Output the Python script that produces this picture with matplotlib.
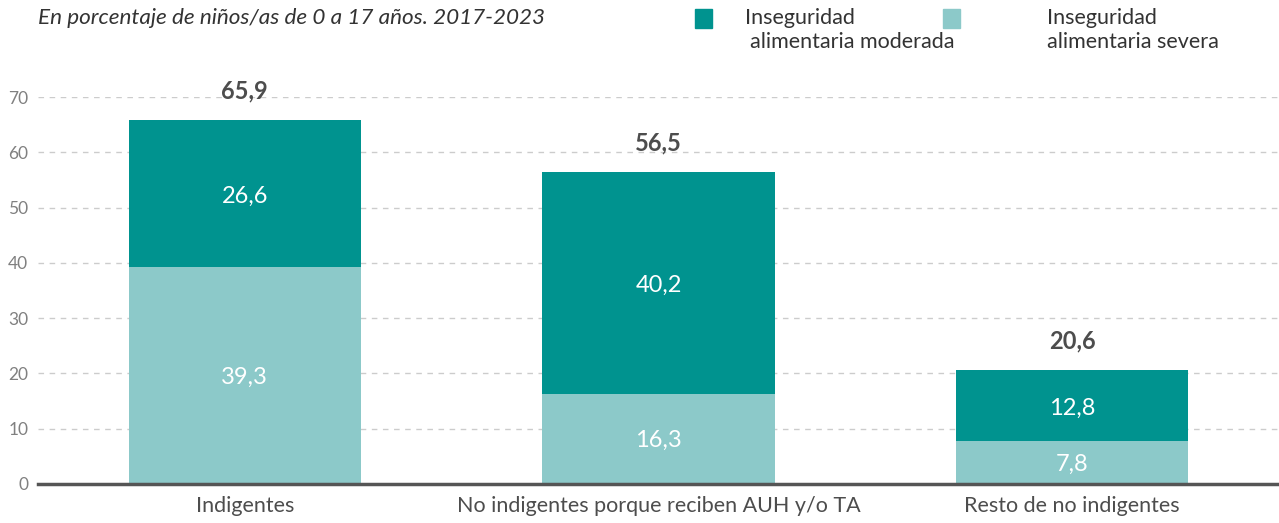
import matplotlib.pyplot as plt
from matplotlib.patches import Rectangle

categories = ['Indigentes', 'No indigentes porque reciben AUH y/o TA', 'Resto de no indigentes']
severa = [39.3, 16.3, 7.8]
moderada = [26.6, 40.2, 12.8]
totales = [65.9, 56.5, 20.6]

dark = '#00938F'
light = '#8CC9C9'
txt = '#4D4D4D'

plt.rcParams['font.family'] = ['Lato', 'DejaVu Sans']

fig = plt.figure(figsize=(12.79, 5.23), dpi=100)
ax = fig.add_axes([38 / 1279, 39 / 523, 1 - 38 / 1279, (484 - 97) / 523])

x = range(len(categories))
ax.bar(x, severa, width=0.562, color=light, zorder=2)
ax.bar(x, moderada, width=0.562, bottom=severa, color=dark, zorder=2)

for i in x:
    ax.text(i, severa[i] / 2 - 0.3, f'{severa[i]:.1f}'.replace('.', ','), ha='center', va='center',
            color='white', fontsize=17)
    ax.text(i, severa[i] + moderada[i] / 2 - 0.5, f'{moderada[i]:.1f}'.replace('.', ','), ha='center',
            va='center', color='white', fontsize=17)
    ax.text(i, totales[i] + 5.2, f'{totales[i]:.1f}'.replace('.', ','), ha='center', va='center',
            color=txt, fontsize=17, fontweight='bold', clip_on=False)

ax.set_xlim(-0.5, 2.5)
ax.set_ylim(0, 70)
ax.set_yticks(range(0, 71, 10))
ax.yaxis.grid(True, linestyle=(0, (4, 4)), color='#CCCCCC', linewidth=1, zorder=0)
ax.set_axisbelow(True)
for s in ['top', 'right', 'left']:
    ax.spines[s].set_visible(False)
ax.spines['bottom'].set_color('#555555')
ax.spines['bottom'].set_linewidth(2.5)
ax.spines['bottom'].set_zorder(3)
ax.tick_params(axis='y', length=0, pad=7, labelsize=12.5, labelcolor='#808080')
ax.tick_params(axis='x', length=0, pad=9, labelsize=15.5, labelcolor=txt)
ax.set_xticks(list(x))
ax.set_xticklabels(categories)

fig.text(38 / 1279, 1 - 18 / 523, 'En porcentaje de niños/as de 0 a 17 años. 2017-2023',
         style='italic', fontsize=16.2, color='#333333', va='center')

# leyenda
fig.patches.append(Rectangle((695 / 1279, 1 - 28 / 523), 17 / 1279, 19 / 523,
                             transform=fig.transFigure, color=dark))
fig.text(745 / 1279, 1 - 18 / 523, 'Inseguridad', fontsize=15.5, color='#333333', va='center')
fig.text(750 / 1279, 1 - 42 / 523, 'alimentaria moderada', fontsize=15.5, color='#333333', va='center')
fig.patches.append(Rectangle((943 / 1279, 1 - 28 / 523), 17 / 1279, 19 / 523,
                             transform=fig.transFigure, color=light))
fig.text(1047 / 1279, 1 - 18 / 523, 'Inseguridad', fontsize=15.5, color='#333333', va='center')
fig.text(1047 / 1279, 1 - 42 / 523, 'alimentaria severa', fontsize=15.5, color='#333333', va='center')

plt.savefig('out.png', dpi=100)
